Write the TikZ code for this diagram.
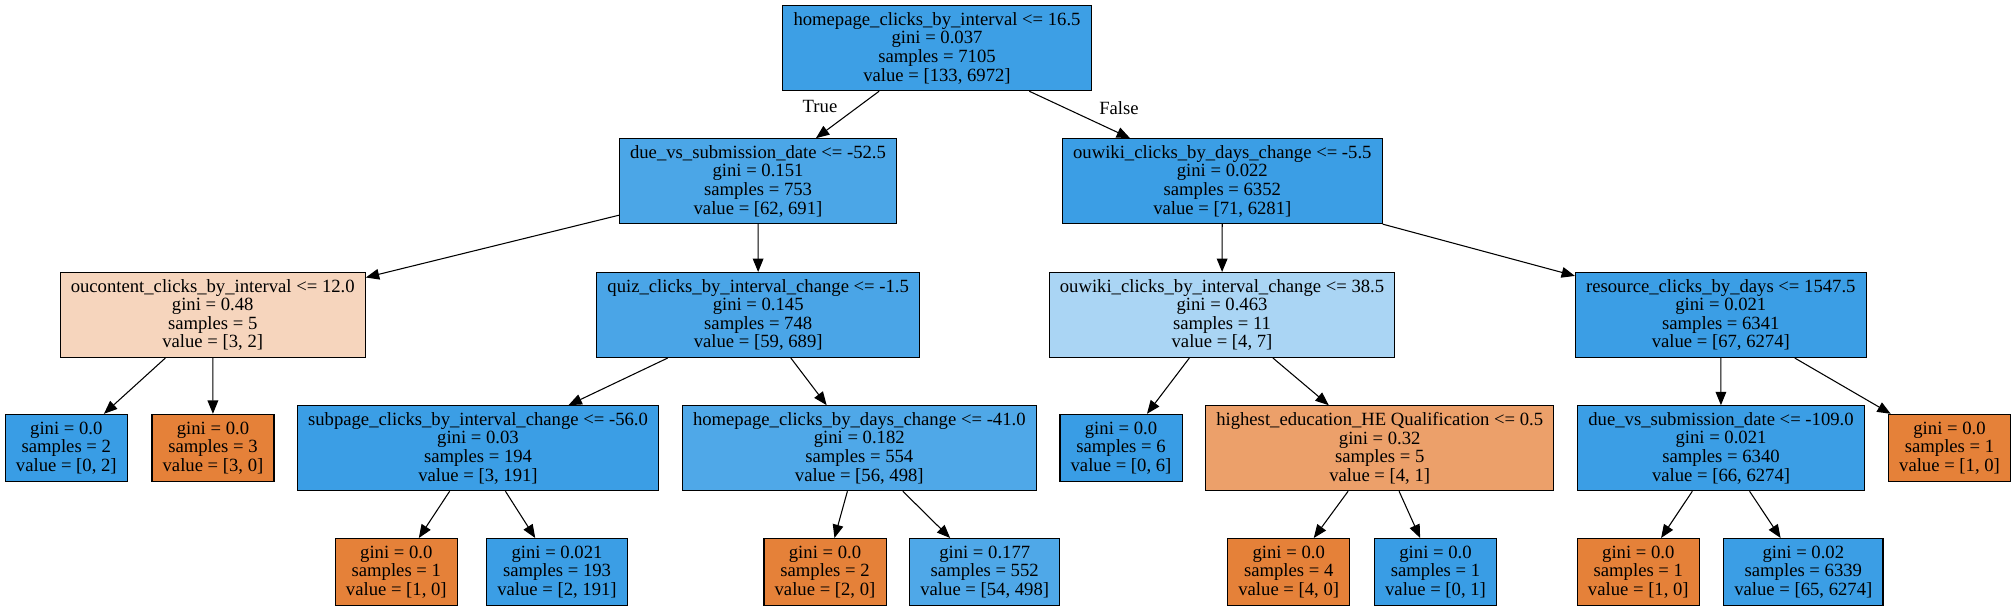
\documentclass[tikz,border=0pt]{standalone}
\usepackage{fontspec}
\setmainfont{Liberation Serif}
\usepackage{tikz}
\usetikzlibrary{
    arrows.meta,
    positioning
}
\usepackage{xcolor}
\definecolor{pureblue}{RGB}{57,157,229}
\definecolor{pureorange}{RGB}{229,129,57}
\definecolor{deepblue}{RGB}{59,158,229}
\definecolor{rootblue}{RGB}{61,159,229}
\definecolor{midblue}{RGB}{75,166,231}
\definecolor{quizblue}{RGB}{74,165,231}
\definecolor{softblue}{RGB}{79,168,232}
\definecolor{paleblue}{RGB}{170,213,244}
\definecolor{paleorange}{RGB}{246,213,189}
\definecolor{midorange}{RGB}{236,160,106}

\begin{document}
\begin{tikzpicture}[
    x=0.75pt, y=-0.75pt,
    box/.style={rectangle, draw, line width=0.8pt, align=center, inner xsep=8pt, inner ysep=2pt, minimum height=63.75pt, font=\fontsize{14}{13.9}\selectfont},
    leaf/.style={box, minimum height=50.5pt},
    arrow/.style={-{Triangle[length=10pt, width=8pt]}, line width=0.8pt}
]
\useasboundingbox (0,0) rectangle (2015,611);

% Root
\node[box, fill=rootblue] (root) at (937, 48.2) {homepage\_clicks\_by\_interval <= 16.5\\gini = 0.037\\samples = 7105\\value = [133, 6972]};

% Depth 1
\node[box, fill=midblue] (dueA) at (758, 181.2) {due\_vs\_submission\_date <= -52.5\\gini = 0.151\\samples = 753\\value = [62, 691]};
\node[box, fill=deepblue] (wikidays) at (1222.3, 181.2) {ouwiki\_clicks\_by\_days\_change <= -5.5\\gini = 0.022\\samples = 6352\\value = [71, 6281]};

% Depth 2
\node[box, fill=paleorange] (oucontent) at (212.7, 315) {oucontent\_clicks\_by\_interval <= 12.0\\gini = 0.48\\samples = 5\\value = [3, 2]};
\node[box, fill=quizblue] (quiz) at (758.2, 315) {quiz\_clicks\_by\_interval\_change <= -1.5\\gini = 0.145\\samples = 748\\value = [59, 689]};
\node[box, fill=paleblue] (wikiint) at (1222, 315) {ouwiki\_clicks\_by\_interval\_change <= 38.5\\gini = 0.463\\samples = 11\\value = [4, 7]};
\node[box, fill=deepblue] (resource) at (1720.8, 315) {resource\_clicks\_by\_days <= 1547.5\\gini = 0.021\\samples = 6341\\value = [67, 6274]};

% Depth 3
\node[leaf, fill=pureblue] (leafA) at (66.3, 448) {gini = 0.0\\samples = 2\\value = [0, 2]};
\node[leaf, fill=pureorange] (leafB) at (213, 448) {gini = 0.0\\samples = 3\\value = [3, 0]};
\node[box, fill=deepblue] (subpage) at (478, 448.2) {subpage\_clicks\_by\_interval\_change <= -56.0\\gini = 0.03\\samples = 194\\value = [3, 191]};
\node[box, fill=softblue] (homedays) at (859.3, 448.2) {homepage\_clicks\_by\_days\_change <= -41.0\\gini = 0.182\\samples = 554\\value = [56, 498]};
\node[leaf, fill=pureblue] (leafC) at (1121, 448) {gini = 0.0\\samples = 6\\value = [0, 6]};
\node[box, fill=midorange] (highest) at (1379.7, 448.2) {highest\_education\_HE Qualification <= 0.5\\gini = 0.32\\samples = 5\\value = [4, 1]};
\node[box, fill=deepblue] (dueB) at (1721, 448.2) {due\_vs\_submission\_date <= -109.0\\gini = 0.021\\samples = 6340\\value = [66, 6274]};
\node[leaf, fill=pureorange] (leafD) at (1949.5, 448) {gini = 0.0\\samples = 1\\value = [1, 0]};

% Depth 4
\node[leaf, fill=pureorange] (leafE) at (396.3, 572.2) {gini = 0.0\\samples = 1\\value = [1, 0]};
\node[leaf, fill=deepblue] (leafF) at (557, 572.2) {gini = 0.021\\samples = 193\\value = [2, 191]};
\node[leaf, fill=pureorange] (leafG) at (825, 572.2) {gini = 0.0\\samples = 2\\value = [2, 0]};
\node[leaf, fill=softblue] (leafH) at (984.7, 572.2) {gini = 0.177\\samples = 552\\value = [54, 498]};
\node[leaf, fill=pureorange] (leafI) at (1288.7, 572.2) {gini = 0.0\\samples = 4\\value = [4, 0]};
\node[leaf, fill=pureblue] (leafJ) at (1435.5, 572.2) {gini = 0.0\\samples = 1\\value = [0, 1]};
\node[leaf, fill=pureorange] (leafK) at (1638.3, 572.2) {gini = 0.0\\samples = 1\\value = [1, 0]};
\node[leaf, fill=deepblue] (leafL) at (1803.3, 572.2) {gini = 0.02\\samples = 6339\\value = [65, 6274]};

% Edges
\draw[arrow] (root) -- (dueA);
\draw[arrow] (root) -- (wikidays);
\draw[arrow] (dueA) -- (oucontent);
\draw[arrow] (dueA) -- (quiz);
\draw[arrow] (wikidays) -- (wikiint);
\draw[arrow] (wikidays) -- (resource);
\draw[arrow] (oucontent) -- (leafA);
\draw[arrow] (oucontent) -- (leafB);
\draw[arrow] (quiz) -- (subpage);
\draw[arrow] (quiz) -- (homedays);
\draw[arrow] (wikiint) -- (leafC);
\draw[arrow] (wikiint) -- (highest);
\draw[arrow] (resource) -- (dueB);
\draw[arrow] (resource) -- (leafD);
\draw[arrow] (subpage) -- (leafE);
\draw[arrow] (subpage) -- (leafF);
\draw[arrow] (homedays) -- (leafG);
\draw[arrow] (homedays) -- (leafH);
\draw[arrow] (highest) -- (leafI);
\draw[arrow] (highest) -- (leafJ);
\draw[arrow] (dueB) -- (leafK);
\draw[arrow] (dueB) -- (leafL);

% Branch labels
\node[font=\fontsize{14}{14}\selectfont] (truelbl) at (820, 106.5) {True};
\node[font=\fontsize{14}{14}\selectfont] (falselbl) at (1119, 108) {False};

\end{tikzpicture}
\end{document}
